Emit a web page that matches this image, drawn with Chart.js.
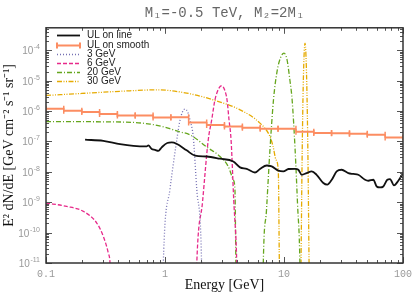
<!DOCTYPE html>
<html lang="en">
<head>
<meta charset="UTF-8">
<title>E2 dN/dE limits</title>
<script src="https://cdn.jsdelivr.net/npm/chart.js"></script>
<style>
    html, body { margin: 0; padding: 0; background: #fff; }
</style>
</head>
<body>
<canvas id="flux" width="420" height="294"></canvas>
<script>
// axis ticks
const xTicks = [0.1, 1, 10, 100];
const xTickLabels = ['0.1', '1', '10', '100'];
const yTickExp = [-11, -10, -9, -8, -7, -6, -5, -4];

// UL on smooth: log-spaced energy bins (GeV) and one value per bin
const binEdges = [0.1, 0.141, 0.2, 0.282, 0.398, 0.562, 0.794, 1.12, 1.58, 2.24, 3.16,
                  4.47, 6.31, 8.91, 12.6, 17.8, 25.1, 35.5, 50.1, 70.8, 100];
const ulSmooth = [1.19e-6, 1.02e-6, 9.3e-7, 8.0e-7, 7.2e-7, 7.2e-7, 6.2e-7, 6.3e-7, 4.2e-7, 3.5e-7,
                  3.1e-7, 2.8e-7, 2.6e-7, 2.6e-7, 2.1e-7, 1.9e-7, 1.85e-7, 1.8e-7, 1.66e-7, 1.36e-7];

// UL on line
const lineE = [0.213, 0.303, 0.419, 0.542, 0.701, 0.725, 0.773, 0.824, 0.879, 0.938,
               1.045, 1.14, 1.25, 1.52, 1.79, 2.24, 2.90, 3.75, 4.27, 4.86,
               5.70, 6.28, 7.16, 7.88, 8.96, 9.87, 10.9, 12.4, 13.2, 14.1,
               15.5, 17.1, 18.8, 21.4, 23.1, 25.2, 27.7, 30.5, 34.7, 38.2,
               42.1, 48.0, 51.1, 56.3, 60.1, 64.1, 68.3, 73.8, 77.8, 84.0,
               91.4, 99.4];
const lineUL = [1.14e-7, 1.05e-7, 8.2e-8, 7.2e-8, 6.9e-8, 7.4e-8, 5.6e-8, 5.3e-8, 4.9e-8, 6.4e-8,
                8.9e-8, 9.3e-8, 8.4e-8, 5.1e-8, 3.4e-8, 3.2e-8, 2.7e-8, 2.2e-8, 1.40e-8, 1.26e-8,
                9.5e-9, 1.24e-8, 1.62e-8, 1.51e-8, 1.09e-8, 1.03e-8, 1.24e-8, 1.26e-8, 1.17e-8, 8.0e-9,
                9.1e-9, 1.03e-8, 8.0e-9, 4.3e-9, 3.8e-9, 5.5e-9, 1.03e-8, 1.17e-8, 9.1e-9, 8.5e-9,
                8.0e-9, 5.5e-9, 5.1e-9, 5.5e-9, 3.3e-9, 3.07e-9, 3.3e-9, 5.5e-9, 5.8e-9, 3.6e-9,
                5.1e-9, 8.5e-9];

// model spectra (values below 1e-11 run off the bottom of the frame)
const e3 = [0.95, 0.968, 1.10, 1.25, 1.34, 1.47, 1.56, 1.62, 1.73, 1.85, 2.03, 2.06];
const f3 = [1e-13, 1e-11, 2.6e-9, 9.8e-8, 5.2e-7, 1.16e-6, 8.8e-7, 5.2e-7, 1.32e-7, 2.6e-9, 1e-11, 1e-13];

const e6 = [0.1, 0.149, 0.206, 0.267, 0.303, 0.334, 0.345, 0.36, 1.8,
            1.85, 2.07, 2.31, 2.47, 2.63, 2.82, 2.99, 3.19, 3.32, 3.45, 3.59, 3.78, 4.01, 4.1];
const f6 = [9.4e-10, 7.3e-10, 5.0e-10, 2.07e-10, 7.5e-11, 2.1e-11, 1e-11, 1e-13, 1e-13,
            1e-11, 1.08e-9, 1.14e-7, 5.2e-7, 2.35e-6, 5.4e-6, 6.8e-6, 4.65e-6, 2.35e-6, 5.2e-7, 1.14e-7, 1.2e-9, 1e-11, 1e-13];

const e20 = [0.1, 0.444, 0.748, 1.06, 1.29, 1.62, 2.25, 2.90, 3.40, 3.75, 3.87, 3.94, 4.0, 6.6,
             6.70, 7.13, 7.62, 8.16, 8.73, 9.35, 10.0, 10.6, 11.2, 11.7, 12.4, 13.0, 13.6, 13.8];
const f20 = [4.5e-7, 4.35e-7, 3.73e-7, 2.76e-7, 2.13e-7, 1.66e-7, 6.5e-8, 3.2e-8, 1.5e-8, 5.5e-9, 2.6e-9, 1e-11, 1e-13, 1e-13,
             1e-11, 5.7e-10, 5.3e-8, 2.35e-6, 1.96e-5, 5.7e-5, 8.1e-5, 4.9e-5, 1.07e-5, 2.35e-6, 5.3e-8, 8.3e-10, 1e-11, 1e-13];

const e30 = [0.1, 0.2, 0.508, 0.851, 1.47, 2.53, 4.27, 6.28, 7.62, 8.09, 8.57, 8.96, 9.14, 9.3, 13.7,
             13.9, 14.17, 14.44, 14.73, 15.02, 15.31, 15.62, 15.93, 16.24, 16.5];
const f30 = [3.26e-6, 3.8e-6, 4.65e-6, 5.0e-6, 4.0e-6, 2.35e-6, 1.10e-6, 4.0e-7, 1.46e-7, 6.9e-8, 2.5e-8, 1.0e-8, 1e-11, 1e-13, 1e-13,
             1e-11, 1.5e-8, 2.7e-6, 6.1e-5, 1.73e-4, 6.1e-5, 2.7e-6, 1.5e-8, 1e-11, 1e-13];

function pts(xs, ys) {
    return xs.map((x, i) => ({ x: x, y: ys[i] }));
}

// each bin is its own flat segment, with a cap at both ends
let smoothPts = [];
ulSmooth.forEach((v, i) => {
    smoothPts.push({ x: binEdges[i], y: v }, { x: binEdges[i + 1], y: v }, { x: binEdges[i + 1], y: null });
});

Chart.defaults.font.family = '"Liberation Sans", Arial, sans-serif';

// frame with inward major/minor ticks on all four sides, plus 10^n labels
const framePlugin = {
    id: 'frame',
    afterDraw(chart) {
        const ctx = chart.ctx;
        const a = chart.chartArea;
        const xs = chart.scales.x, ys = chart.scales.y;
        ctx.save();
        ctx.strokeStyle = '#555';
        ctx.lineWidth = 1;
        ctx.beginPath();
        for (let d = -1; d <= 2; d++) {
            for (let m = 1; m <= 9; m++) {
                const v = m * Math.pow(10, d);
                if (v > xs.max * 1.001) continue;
                const p = Math.round(xs.getPixelForValue(v)) + 0.5;
                const len = m === 1 ? 6 : 3;
                ctx.moveTo(p, a.bottom); ctx.lineTo(p, a.bottom - len);
                ctx.moveTo(p, a.top); ctx.lineTo(p, a.top + len);
            }
        }
        for (let d = -11; d <= -4; d++) {
            for (let m = 1; m <= 9; m++) {
                const v = m * Math.pow(10, d);
                if (v > ys.max) continue;
                const p = Math.round(ys.getPixelForValue(v)) + 0.5;
                const len = m === 1 ? 6 : 3;
                ctx.moveTo(a.left, p); ctx.lineTo(a.left + len, p);
                ctx.moveTo(a.right, p); ctx.lineTo(a.right - len, p);
            }
        }
        ctx.stroke();
        ctx.strokeStyle = '#333';
        ctx.lineWidth = 1.5;
        ctx.strokeRect(a.left, a.top, a.right - a.left, a.bottom - a.top);

        ctx.fillStyle = '#999';
        ctx.textAlign = 'right';
        ctx.textBaseline = 'alphabetic';
        yTickExp.forEach(n => {
            const p = ys.getPixelForValue(Math.pow(10, n));
            const rx = a.left - 6;
            ctx.font = '7px "Liberation Sans", Arial, sans-serif';
            const ex = String(n);
            const w = ctx.measureText(ex).width;
            ctx.fillText(ex, rx, p - 1);
            ctx.font = '10px "Liberation Sans", Arial, sans-serif';
            ctx.fillText('10', rx - w - 0.5, p + 4);
        });
        ctx.restore();
    }
};

// legend drawn inside the frame, top left
const keyPlugin = {
    id: 'keyBox',
    afterDraw(chart) {
        const ctx = chart.ctx;
        const a = chart.chartArea;
        ctx.save();
        ctx.font = '10px "Liberation Sans", Arial, sans-serif';
        ctx.textBaseline = 'middle';
        ctx.textAlign = 'left';
        chart.data.datasets.forEach((ds, i) => {
            const y = Math.round(a.top + 7.5 + i * 9.2) + 0.5;
            const x0 = a.left + 11, x1 = a.left + 34;
            ctx.strokeStyle = ds.borderColor;
            ctx.lineWidth = ds.borderWidth;
            ctx.setLineDash(ds.borderDash || []);
            ctx.beginPath();
            ctx.moveTo(x0, y); ctx.lineTo(x1, y);
            if (ds.pointStyle === 'line') {
                ctx.moveTo(x0, y - 3); ctx.lineTo(x0, y + 3);
                ctx.moveTo(x1, y - 3); ctx.lineTo(x1, y + 3);
            }
            ctx.stroke();
            ctx.setLineDash([]);
            ctx.fillStyle = '#222';
            ctx.fillText(ds.label, a.left + 41, y);
        });
        ctx.restore();
    }
};

new Chart(document.getElementById('flux'), {
    type: 'line',
    data: {
        datasets: [
            { label: 'UL on line', data: pts(lineE, lineUL), borderColor: '#111', borderWidth: 1.8, pointRadius: 0 },
            { label: 'UL on smooth', data: smoothPts, borderColor: '#fc8d62', borderWidth: 2, tension: 0,
              cubicInterpolationMode: 'default', spanGaps: false,
              pointStyle: 'line', rotation: 90, pointRadius: 3, pointBorderWidth: 1.5, pointBorderColor: '#fc8d62' },
            { label: '3 GeV', data: pts(e3, f3), borderColor: '#7570b3', borderWidth: 1.3, borderDash: [1, 2], pointRadius: 0 },
            { label: '6 GeV', data: pts(e6, f6), borderColor: '#e7298a', borderWidth: 1.3, borderDash: [4, 2], pointRadius: 0 },
            { label: '20 GeV', data: pts(e20, f20), borderColor: '#66a61e', borderWidth: 1.3, borderDash: [5, 2, 1, 2], pointRadius: 0 },
            { label: '30 GeV', data: pts(e30, f30), borderColor: '#e6ab02', borderWidth: 1.3, borderDash: [5, 1.5, 1, 1.5, 1, 1.5], pointRadius: 0 }
        ]
    },
    options: {
        responsive: false,
        animation: false,
        layout: { padding: { right: 17 } },
        elements: { line: { cubicInterpolationMode: 'monotone' } },
        scales: {
            x: {
                type: 'logarithmic',
                min: 0.1,
                max: 100,
                afterFit: s => { s.height = 31; },
                afterBuildTicks: s => { s.ticks = xTicks.map(v => ({ value: v })); },
                grid: { display: false, drawTicks: false },
                border: { display: false },
                ticks: {
                    autoSkip: false,
                    maxRotation: 0,
                    padding: 5,
                    color: '#999',
                    font: { family: '"Liberation Mono", monospace', size: 10 },
                    callback: (v, i) => xTickLabels[i]
                },
                title: {
                    display: true,
                    text: 'Energy [GeV]',
                    color: '#111',
                    font: { family: '"Liberation Serif", "Times New Roman", serif', size: 14 },
                    padding: { top: 0, bottom: 0 }
                }
            },
            y: {
                type: 'logarithmic',
                min: 1e-11,
                max: 5.5e-4,
                afterFit: s => { s.width = 46; },
                grid: { display: false, drawTicks: false },
                border: { display: false },
                ticks: { display: false },
                title: {
                    display: true,
                    text: 'E² dN/dE [GeV cm⁻² s⁻¹ sr⁻¹]',
                    color: '#111',
                    font: { family: '"Liberation Serif", "Times New Roman", serif', size: 14 },
                    padding: { top: 1, bottom: 0 }
                }
            }
        },
        plugins: {
            legend: { display: false },
            tooltip: { enabled: false },
            title: {
                display: true,
                fullSize: false,
                text: 'M₁=-0.5 TeV, M₂=2M₁',
                color: '#666',
                font: { family: '"Liberation Mono", "DejaVu Sans Mono", monospace', size: 14, weight: 'normal' },
                padding: { top: 5, bottom: 6 }
            }
        }
    },
    plugins: [framePlugin, keyPlugin]
});
</script>
</body>
</html>
